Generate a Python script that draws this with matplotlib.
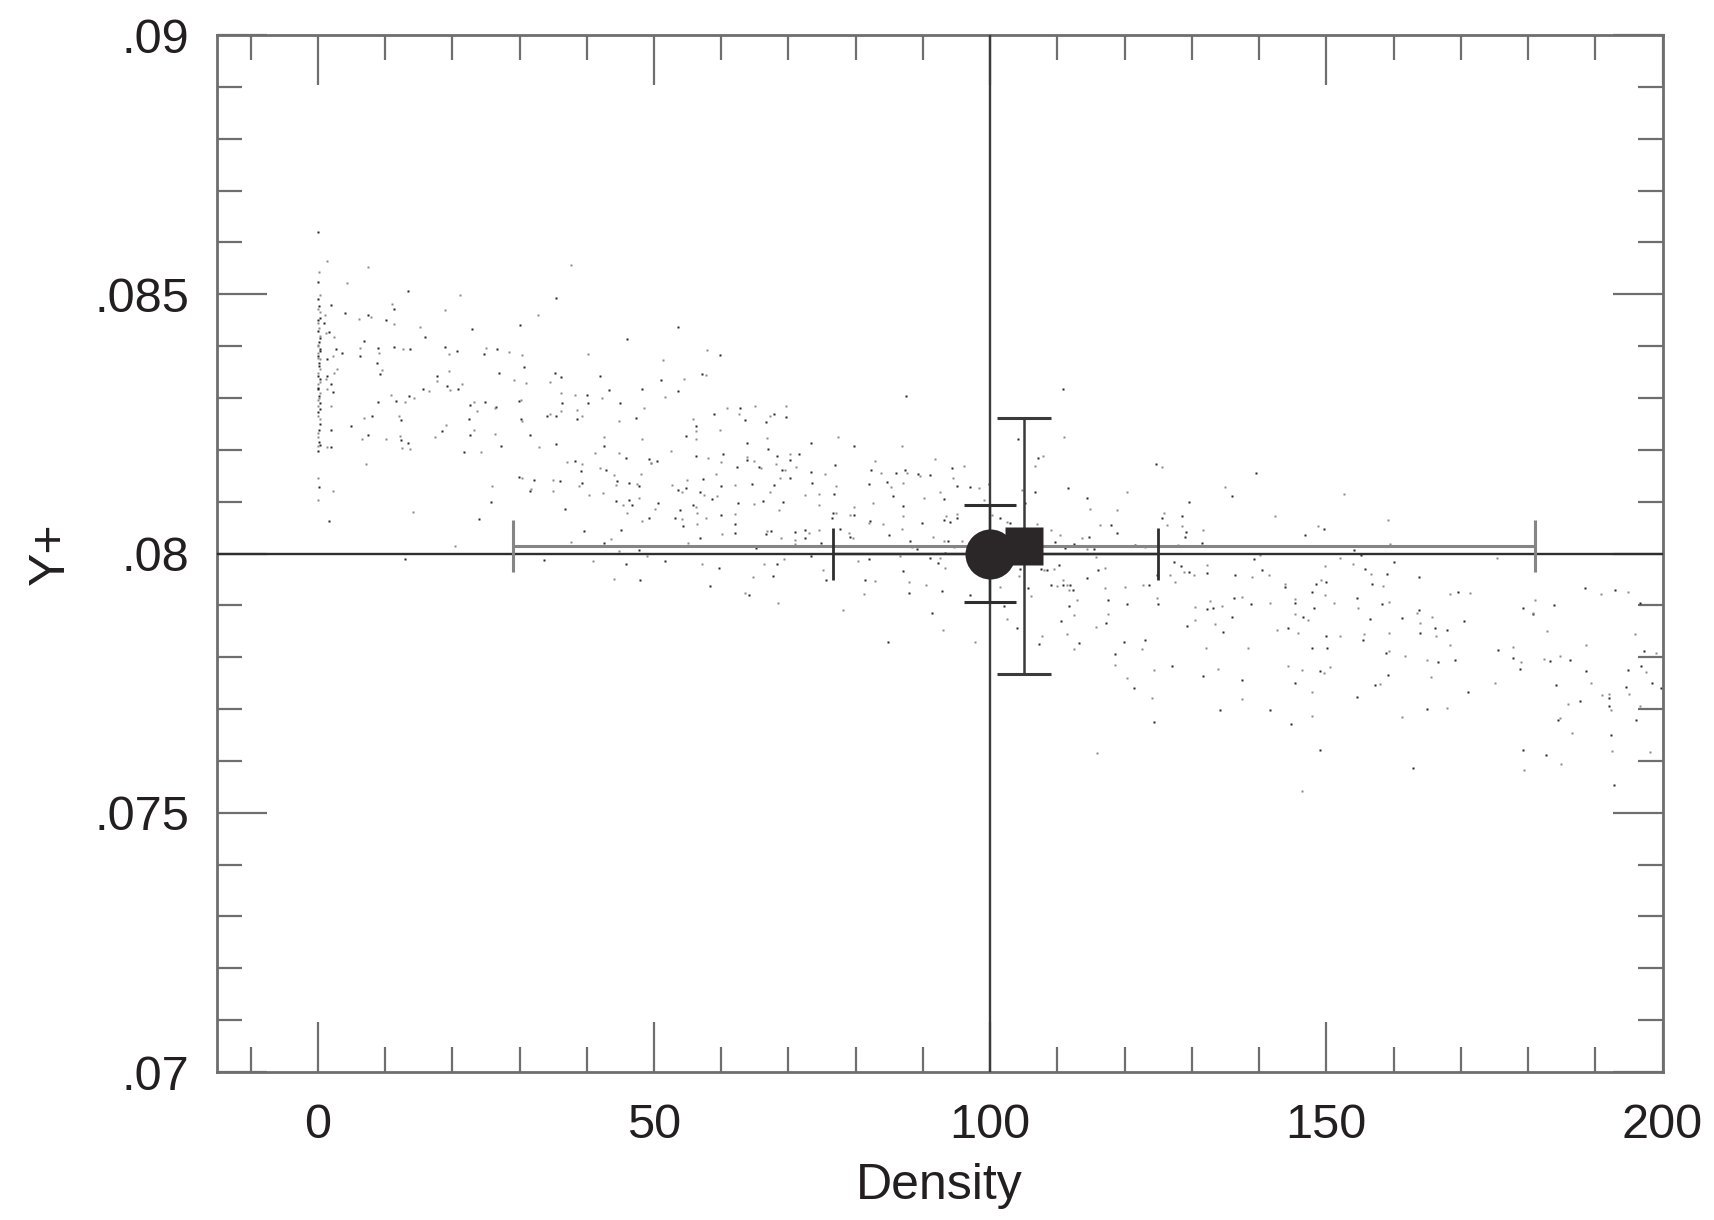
#!/usr/bin/env python3

'''Y+ against density: scatter of runs with two means and their error bars.'''

import numpy as np
import matplotlib
matplotlib.use('Agg')
import matplotlib.pyplot as plt
import matplotlib.ticker as ticker


X_LIM = (-15, 200)
Y_LIM = (0.07, 0.09)
X_TICKS = [0, 50, 100, 150, 200]
X_TICK_LABELS = ['0', '50', '100', '150', '200']
Y_TICKS = [0.07, 0.075, 0.08, 0.085, 0.09]
Y_TICK_LABELS = ['.07', '.075', '.08', '.085', '.09']

X_LABEL = 'Density'
Y_LABEL = 'Y+'

# reference lines
REF_X = 100.0
REF_Y = 0.080

# circle mean with its error bars
CIRCLE_X = 100.0
CIRCLE_Y = 0.0800
CIRCLE_XERR = (23.4, 24.9)
CIRCLE_YERR = 0.00093

# square mean with its error bars
SQUARE_X = 105.1
SQUARE_Y = 0.08014
SQUARE_XERR = 76.0
SQUARE_YERR = 0.00247

# runs at density ~0
dots_col = [
    (0.0, 0.08621), (0.2, 0.08542), (0.0, 0.08523), (0.4, 0.08498), (0.2, 0.08478),
    (0.0, 0.08471), (0.3, 0.08455), (0.1, 0.08445), (0.0, 0.08429), (0.4, 0.08420),
    (0.2, 0.08407), (0.0, 0.08400), (0.3, 0.08394), (0.1, 0.08387), (0.0, 0.08381),
    (0.4, 0.08375), (0.2, 0.08362), (0.0, 0.08349), (0.3, 0.08336), (0.1, 0.08326),
    (0.0, 0.08317), (0.4, 0.08310), (0.2, 0.08304), (0.0, 0.08297), (0.3, 0.08291),
    (0.1, 0.08284), (0.0, 0.08272), (0.4, 0.08259), (0.2, 0.08239), (0.0, 0.08233),
    (0.3, 0.08210), (0.1, 0.08207), (0.0, 0.08198), (0.0, 0.08146), (0.2, 0.08129),
    (0.0, 0.08103), (0.1, 0.08490), (0.3, 0.08465), (0.0, 0.08450), (0.2, 0.08435),
    (0.4, 0.08415), (0.1, 0.08403), (0.3, 0.08390), (0.0, 0.08378), (0.2, 0.08368),
    (0.4, 0.08355), (0.1, 0.08342), (0.3, 0.08331), (0.0, 0.08320), (0.2, 0.08300),
    (0.4, 0.08278), (0.1, 0.08265), (0.3, 0.08250), (0.0, 0.08225), (0.2, 0.08215),
]

# runs at density 1..55
dots_left = [
    (1.3, 0.08565), (1.9, 0.08479), (1.0, 0.08460), (0.9, 0.08445), (1.2, 0.08426),
    (1.7, 0.08427), (2.4, 0.08418), (2.7, 0.08395), (2.2, 0.08381), (1.4, 0.08375),
    (2.4, 0.08349), (1.3, 0.08342), (1.2, 0.08336), (1.9, 0.08326), (1.4, 0.08317),
    (2.3, 0.08311), (1.9, 0.08284), (1.9, 0.08238), (1.3, 0.08206), (2.0, 0.08206),
    (2.3, 0.08120), (1.6, 0.08062), (2.9, 0.08355), (3.6, 0.08386), (4.4, 0.08521),
    (4.0, 0.08463), (6.1, 0.08452), (7.4, 0.08460), (7.9, 0.08457), (6.9, 0.08410),
    (6.3, 0.08396), (6.3, 0.08380), (7.5, 0.08552), (8.9, 0.08396), (9.1, 0.08386),
    (8.8, 0.08367), (9.6, 0.08354), (9.3, 0.08346), (6.8, 0.08262), (8.1, 0.08266),
    (6.6, 0.08221), (7.4, 0.08228), (7.2, 0.08172), (5.0, 0.08246), (10.1, 0.08221),
    (10.2, 0.08451), (11.1, 0.08482), (11.3, 0.08471), (11.3, 0.08442), (11.3, 0.08399),
    (12.6, 0.08394), (13.7, 0.08394), (10.9, 0.08305), (11.6, 0.08294), (13.0, 0.08293),
    (13.6, 0.08304), (14.3, 0.08299), (8.9, 0.08292), (12.1, 0.08265), (12.3, 0.08257),
    (12.2, 0.08226), (12.3, 0.08219), (12.5, 0.08204), (13.4, 0.08214), (13.7, 0.08201),
    (13.0, 0.07990), (14.1, 0.08080), (13.4, 0.08506), (15.2, 0.08436), (15.9, 0.08418),
    (18.9, 0.08469), (18.9, 0.08399), (19.5, 0.08384), (20.7, 0.08391), (21.2, 0.08498),
    (23.0, 0.08433), (19.5, 0.08352), (17.8, 0.08342), (17.8, 0.08333), (19.2, 0.08324),
    (19.6, 0.08315), (20.8, 0.08318), (21.5, 0.08326), (15.7, 0.08318), (16.5, 0.08313),
    (22.6, 0.08286), (23.3, 0.08293), (24.8, 0.08293), (23.7, 0.08274), (22.5, 0.08259),
    (23.3, 0.08238), (22.6, 0.08228), (19.1, 0.08247), (18.5, 0.08236), (17.4, 0.08225),
    (21.8, 0.08196), (24.3, 0.08196), (24.0, 0.08067), (20.4, 0.08015), (24.7, 0.08384),
    (25.0, 0.08396), (26.7, 0.08394), (28.4, 0.08389), (26.9, 0.08348), (26.3, 0.08281),
    (26.5, 0.08283), (26.3, 0.08231), (27.2, 0.08208), (25.9, 0.08131), (25.8, 0.08099),
    (29.2, 0.08335), (30.1, 0.08440), (30.4, 0.08382), (30.6, 0.08360), (31.0, 0.08328),
    (29.9, 0.08294), (30.2, 0.08297), (30.2, 0.08259), (30.4, 0.08255), (31.6, 0.08228),
    (32.9, 0.08206), (29.9, 0.08148), (30.4, 0.08145), (32.1, 0.08141), (31.7, 0.08125),
    (31.6, 0.08120), (32.7, 0.08460), (35.4, 0.08492), (37.6, 0.08557), (35.3, 0.08349),
    (34.6, 0.08331), (36.2, 0.08341), (36.1, 0.08309), (34.1, 0.08266), (34.6, 0.08270),
    (35.5, 0.08266), (36.1, 0.08275), (36.3, 0.08290), (38.3, 0.08305), (40.1, 0.08306),
    (40.2, 0.08384), (40.2, 0.08290), (38.6, 0.08277), (38.6, 0.08259), (39.3, 0.08265),
    (35.4, 0.08212), (35.0, 0.08141), (36.0, 0.08140), (35.0, 0.08120), (36.7, 0.08085),
    (37.1, 0.08177), (38.3, 0.08178), (39.3, 0.08172), (39.1, 0.08159), (38.8, 0.08131),
    (39.3, 0.08136), (40.4, 0.08112), (39.6, 0.08043), (41.2, 0.08193), (42.0, 0.08342),
    (42.3, 0.08299), (43.3, 0.08315), (42.6, 0.08225), (42.5, 0.08207), (42.0, 0.08165),
    (42.8, 0.08161), (44.0, 0.08152), (44.5, 0.08140), (44.3, 0.08133), (46.3, 0.08136),
    (47.5, 0.08135), (47.7, 0.08130), (42.4, 0.08117), (44.3, 0.08101), (45.4, 0.08093),
    (46.3, 0.08104), (46.0, 0.08078), (46.8, 0.08093), (47.7, 0.08107), (44.9, 0.08290),
    (44.8, 0.08255), (47.4, 0.08262), (48.5, 0.08281), (48.2, 0.08318), (48.2, 0.08220),
    (46.0, 0.08413), (44.8, 0.08193), (45.9, 0.08185), (48.0, 0.08154), (49.2, 0.08183),
    (49.5, 0.08175), (49.2, 0.08069), (48.2, 0.08062), (45.1, 0.08045), (43.6, 0.08028),
    (42.5, 0.08020), (44.8, 0.08004), (47.7, 0.08007), (49.0, 0.07996), (45.8, 0.07980),
    (41.0, 0.07985), (33.6, 0.07987), (44.0, 0.07951), (47.9, 0.07948), (37.7, 0.08022),
    (53.5, 0.08436),
]

# runs at density 50..124
dots_mid = [
    (57.9, 0.08392), (59.8, 0.08383), (51.3, 0.08373), (51.1, 0.08335), (54.5, 0.08336),
    (57.2, 0.08346), (57.7, 0.08344), (53.6, 0.08314), (51.6, 0.08302), (87.5, 0.08304),
    (55.8, 0.08259), (56.2, 0.08246), (56.2, 0.08236), (54.7, 0.08226), (56.3, 0.08220),
    (59.0, 0.08269), (60.9, 0.08280), (62.8, 0.08280), (62.6, 0.08269), (63.5, 0.08258),
    (65.0, 0.08285), (66.7, 0.08254), (67.2, 0.08265), (67.8, 0.08270), (69.6, 0.08285),
    (69.6, 0.08264), (59.8, 0.08238), (63.9, 0.08214), (66.8, 0.08222), (66.9, 0.08201),
    (52.6, 0.08198), (50.5, 0.08179), (49.5, 0.08174), (56.2, 0.08188), (58.0, 0.08185),
    (60.3, 0.08192), (60.0, 0.08177), (62.4, 0.08167), (63.8, 0.08187), (63.9, 0.08180),
    (64.9, 0.08178), (65.6, 0.08167), (65.9, 0.08164), (68.3, 0.08188), (70.3, 0.08192),
    (71.6, 0.08192), (68.2, 0.08172), (69.1, 0.08161), (69.5, 0.08162), (70.3, 0.08180),
    (71.1, 0.08166), (73.3, 0.08214), (77.3, 0.08224), (79.7, 0.08207), (86.9, 0.08207),
    (73.4, 0.08158), (75.5, 0.08154), (76.9, 0.08171), (59.2, 0.08153), (57.3, 0.08144),
    (54.9, 0.08142), (54.7, 0.08126), (52.7, 0.08132), (53.5, 0.08122), (54.2, 0.08119),
    (56.9, 0.08119), (57.4, 0.08113), (58.7, 0.08105), (59.3, 0.08110), (60.0, 0.08130),
    (62.1, 0.08132), (64.6, 0.08134), (67.3, 0.08119), (67.8, 0.08132), (68.8, 0.08146),
    (70.3, 0.08146), (72.5, 0.08113), (73.5, 0.08136), (74.5, 0.08115), (76.7, 0.08115),
    (77.0, 0.08130), (50.6, 0.08097), (50.2, 0.08085), (55.8, 0.08093), (56.2, 0.08090),
    (62.5, 0.08097), (64.9, 0.08095), (66.2, 0.08102), (68.6, 0.08084), (69.2, 0.08100),
    (74.5, 0.08093), (53.8, 0.08084), (56.4, 0.08079), (53.2, 0.08068), (54.2, 0.08066),
    (54.3, 0.08054), (57.7, 0.08069), (59.9, 0.08074), (62.1, 0.08077), (62.1, 0.08057),
    (56.4, 0.08056), (62.0, 0.08040), (60.1, 0.08037), (56.9, 0.08029), (55.0, 0.08021),
    (66.6, 0.08037), (66.8, 0.08044), (67.4, 0.08044), (68.9, 0.08029), (71.0, 0.08041),
    (70.9, 0.08027), (72.5, 0.08046), (73.0, 0.08039), (72.5, 0.08029), (74.5, 0.08046),
    (76.6, 0.08079), (77.1, 0.08079), (76.5, 0.08068), (79.1, 0.08074), (79.8, 0.08075),
    (79.7, 0.08090), (77.7, 0.08048), (79.0, 0.08040), (79.2, 0.08032), (79.6, 0.08029),
    (74.8, 0.08021), (70.9, 0.08018), (65.2, 0.08010), (82.6, 0.08098), (82.0, 0.08135),
    (82.8, 0.08178), (82.3, 0.08161), (83.8, 0.08156), (84.7, 0.08138), (85.2, 0.08129),
    (86.0, 0.08156), (87.0, 0.08136), (87.4, 0.08161), (87.6, 0.08156), (89.2, 0.08154),
    (89.5, 0.08149), (91.0, 0.08151), (91.8, 0.08183), (94.3, 0.08164), (94.5, 0.08145),
    (95.1, 0.08130), (96.1, 0.08169), (97.0, 0.08129), (98.3, 0.08127), (99.8, 0.08134),
    (92.5, 0.08119), (93.2, 0.08105), (90.2, 0.08108), (87.1, 0.08091), (87.1, 0.08072),
    (85.5, 0.08110), (82.0, 0.08059), (82.2, 0.08063), (84.1, 0.08057), (84.9, 0.08036),
    (86.9, 0.08047), (89.9, 0.08059), (91.5, 0.08032), (93.2, 0.08064), (93.5, 0.08072),
    (94.0, 0.08061), (95.0, 0.08077), (95.1, 0.08068), (93.1, 0.08025), (93.8, 0.08025),
    (95.8, 0.08025), (93.3, 0.08001), (94.6, 0.08013), (91.1, 0.07991), (92.6, 0.07991),
    (92.3, 0.07981), (93.3, 0.07973), (88.1, 0.08025), (88.4, 0.08013), (89.1, 0.08008),
    (86.6, 0.07995), (82.0, 0.07989), (80.3, 0.07986), (81.4, 0.07949), (82.8, 0.07947),
    (87.1, 0.07967), (87.9, 0.07945), (88.0, 0.07923), (90.4, 0.07939), (92.8, 0.07928),
    (81.2, 0.07922), (73.3, 0.07995), (75.2, 0.07969), (75.6, 0.07949), (78.1, 0.07891),
    (51.7, 0.07986), (57.2, 0.07979), (59.6, 0.07973), (66.4, 0.07979), (68.3, 0.07979),
    (69.4, 0.07989), (67.7, 0.07956), (64.8, 0.07954), (58.4, 0.07937), (63.6, 0.07923),
    (64.2, 0.07920), (68.5, 0.07905), (91.3, 0.07886), (93.0, 0.07852), (84.8, 0.07830),
    (97.7, 0.07830), (97.0, 0.07920), (101.4, 0.07935), (102.0, 0.07898), (102.5, 0.07873),
    (104.0, 0.07857), (100.3, 0.08074), (101.5, 0.08068), (102.5, 0.08061), (102.9, 0.08059),
    (99.1, 0.08104), (104.2, 0.08220), (104.7, 0.08122), (105.2, 0.08097), (106.7, 0.08169),
    (107.1, 0.08185), (107.9, 0.08188), (106.7, 0.08119), (106.9, 0.08057), (110.9, 0.08317),
    (111.0, 0.08224), (111.6, 0.08127), (109.0, 0.08045), (109.7, 0.08023), (110.4, 0.08036),
    (112.4, 0.08018), (113.7, 0.08029), (114.7, 0.08031), (114.4, 0.08008), (115.4, 0.08008),
    (116.3, 0.08055), (117.9, 0.08055), (118.8, 0.08084), (114.4, 0.08108), (114.8, 0.08085),
    (118.9, 0.08039), (120.4, 0.08119), (121.6, 0.08016), (123.1, 0.08013), (111.2, 0.08010),
    (115.7, 0.07994), (116.0, 0.07968), (117.1, 0.07973), (104.4, 0.07971), (104.3, 0.07956),
    (105.7, 0.07933), (106.0, 0.07918), (107.5, 0.07971), (108.0, 0.07968), (108.5, 0.07969),
    (109.5, 0.07971), (110.2, 0.07978), (110.9, 0.07949), (109.0, 0.07939), (109.9, 0.07937),
    (110.9, 0.07939), (111.4, 0.07939), (111.9, 0.07939), (111.7, 0.07929), (112.3, 0.07929),
    (112.9, 0.07910), (111.8, 0.07898), (112.5, 0.07881), (114.4, 0.07952), (117.1, 0.07933),
    (117.6, 0.07911), (120.1, 0.07935), (120.3, 0.07902), (117.6, 0.07884), (117.3, 0.07866),
    (115.8, 0.07859), (110.5, 0.07870), (107.7, 0.07841), (107.2, 0.07825), (111.4, 0.07844),
    (113.2, 0.07828), (112.5, 0.07815), (118.6, 0.07806), (118.5, 0.07785), (119.9, 0.07830),
    (120.4, 0.07759), (121.4, 0.07740), (122.6, 0.07815), (123.1, 0.07833), (122.8, 0.07939),
    (123.6, 0.07939), (115.9, 0.07616),
]

# runs at density 124..200
dots_right = [
    (124.6, 0.08172), (125.6, 0.08166), (139.5, 0.08155), (134.9, 0.08129), (135.9, 0.08111),
    (152.6, 0.08114), (129.6, 0.08100), (125.9, 0.08079), (125.5, 0.08068), (126.3, 0.08055),
    (128.5, 0.08073), (128.5, 0.08053), (129.2, 0.08041), (131.7, 0.08046), (129.0, 0.08031),
    (128.0, 0.08016), (131.5, 0.08021), (142.4, 0.08073), (146.9, 0.08035), (148.8, 0.08053),
    (149.6, 0.08048), (159.2, 0.08064), (154.1, 0.08007), (159.4, 0.08018), (155.2, 0.07997),
    (152.0, 0.07992), (139.3, 0.07990), (140.2, 0.07997), (160.0, 0.07984), (153.9, 0.07979),
    (155.8, 0.07971), (156.6, 0.07960), (159.0, 0.07960), (149.8, 0.07975), (124.8, 0.07958),
    (126.7, 0.07958), (127.3, 0.07984), (127.5, 0.07946), (128.4, 0.07975), (128.8, 0.07965),
    (129.6, 0.07965), (130.3, 0.07958), (132.2, 0.07962), (132.3, 0.07977), (136.4, 0.07958),
    (139.0, 0.07954), (140.5, 0.07968), (141.5, 0.07958), (148.4, 0.07941), (149.2, 0.07949),
    (150.0, 0.07946), (143.8, 0.07941), (143.8, 0.07936), (149.8, 0.07920), (147.8, 0.07926),
    (151.1, 0.07904), (154.5, 0.07914), (154.7, 0.07895), (156.8, 0.07941), (158.4, 0.07938),
    (158.3, 0.07902), (159.3, 0.07907), (163.8, 0.07954), (124.8, 0.07914), (125.0, 0.07902),
    (130.4, 0.07896), (132.3, 0.07893), (132.7, 0.07909), (133.1, 0.07895), (134.5, 0.07898),
    (136.3, 0.07914), (137.4, 0.07917), (138.8, 0.07902), (141.6, 0.07904), (145.4, 0.07904),
    (145.3, 0.07912), (148.1, 0.07895), (145.4, 0.07883), (146.6, 0.07877), (147.2, 0.07872),
    (135.9, 0.07878), (130.4, 0.07872), (129.3, 0.07860), (133.4, 0.07864), (134.7, 0.07849),
    (142.6, 0.07853), (144.3, 0.07856), (145.8, 0.07846), (150.0, 0.07841), (152.1, 0.07841),
    (155.4, 0.07833), (155.6, 0.07844), (156.5, 0.07873), (159.3, 0.07846), (161.2, 0.07875),
    (163.5, 0.07885), (163.8, 0.07891), (163.9, 0.07866), (163.9, 0.07846), (165.7, 0.07878),
    (166.1, 0.07857), (166.3, 0.07841), (167.9, 0.07853), (168.4, 0.07922), (169.6, 0.07926),
    (171.4, 0.07923), (170.4, 0.07870), (168.4, 0.07824), (169.2, 0.07795), (165.0, 0.07795),
    (166.6, 0.07791), (161.7, 0.07803), (158.8, 0.07808), (159.3, 0.07812), (159.1, 0.07765),
    (158.0, 0.07748), (157.3, 0.07747), (165.5, 0.07761), (171.1, 0.07733), (161.2, 0.07684),
    (165.0, 0.07700), (167.9, 0.07702), (162.9, 0.07586), (124.0, 0.07722), (124.4, 0.07675),
    (124.3, 0.07776), (127.1, 0.07783), (132.1, 0.07817), (131.6, 0.07763), (133.9, 0.07778),
    (134.2, 0.07698), (138.3, 0.07817), (137.4, 0.07756), (137.4, 0.07720), (141.6, 0.07698),
    (144.3, 0.07783), (145.4, 0.07751), (146.4, 0.07776), (147.8, 0.07817), (147.8, 0.07733),
    (149.0, 0.07774), (149.6, 0.07769), (150.1, 0.07817), (150.5, 0.07782), (144.7, 0.07672),
    (147.8, 0.07686), (149.0, 0.07622), (146.4, 0.07542), (154.5, 0.07724), (175.4, 0.07992),
    (175.6, 0.07814), (177.7, 0.07820), (177.8, 0.07799), (178.9, 0.07790), (178.8, 0.07778),
    (175.1, 0.07751), (179.2, 0.07895), (180.7, 0.07886), (180.8, 0.07883), (181.1, 0.07911),
    (183.9, 0.07900), (182.8, 0.07851), (188.5, 0.07934), (190.9, 0.07922), (192.9, 0.07930),
    (194.9, 0.07926), (196.6, 0.07904), (182.4, 0.07797), (183.2, 0.07793), (184.7, 0.07803),
    (186.3, 0.07795), (188.6, 0.07824), (188.6, 0.07774), (189.3, 0.07751), (184.2, 0.07746),
    (185.9, 0.07709), (187.7, 0.07715), (191.0, 0.07727), (192.0, 0.07722), (192.1, 0.07729),
    (192.0, 0.07705), (192.4, 0.07698), (194.6, 0.07743), (195.0, 0.07729), (194.8, 0.07776),
    (195.9, 0.07844), (197.2, 0.07812), (199.1, 0.07809), (196.8, 0.07783), (197.5, 0.07772),
    (198.4, 0.07751), (196.6, 0.07706), (196.1, 0.07678), (184.8, 0.07682), (184.5, 0.07678),
    (186.6, 0.07653), (179.2, 0.07622), (179.4, 0.07583), (182.6, 0.07611), (184.9, 0.07594),
    (192.4, 0.07650), (192.5, 0.07619), (192.8, 0.07554), (198.1, 0.07617), (199.8, 0.07741),
]

AXES_COLOR = '#6e6e6e'
TEXT_COLOR = '#231f20'
MARK_COLOR = '#2b2627'


def format_axis(axis):
    '''Ticks, limits and frame.'''
    axis.set_xlim(*X_LIM)
    axis.set_ylim(*Y_LIM)
    axis.xaxis.set_major_locator(ticker.FixedLocator(X_TICKS))
    axis.xaxis.set_major_formatter(ticker.FixedFormatter(X_TICK_LABELS))
    axis.xaxis.set_minor_locator(ticker.MultipleLocator(10))
    axis.yaxis.set_major_locator(ticker.FixedLocator(Y_TICKS))
    axis.yaxis.set_major_formatter(ticker.FixedFormatter(Y_TICK_LABELS))
    axis.yaxis.set_minor_locator(ticker.MultipleLocator(0.001))
    axis.tick_params(which='both', direction='in', top=True, right=True,
                     color=AXES_COLOR, width=1.6, labelcolor=TEXT_COLOR,
                     labelsize=35)
    axis.tick_params(which='major', length=36)
    axis.tick_params(which='minor', length=18)
    axis.tick_params(axis='x', pad=22)
    axis.tick_params(axis='y', pad=20)
    for spine in axis.spines.values():
        spine.set_color(AXES_COLOR)
        spine.set_linewidth(2)
    axis.set_xlabel(X_LABEL, fontsize=36, color=TEXT_COLOR, labelpad=11)
    axis.set_ylabel(Y_LABEL, fontsize=36, color=TEXT_COLOR, labelpad=15)


def plot_graph():
    plt.rcParams['font.family'] = ['Liberation Sans', 'DejaVu Sans']
    fig = plt.figure(figsize=(17.15, 12.20), dpi=100)
    axis = fig.add_axes([0.1265, 0.1213, 0.8429, 0.850])

    pts = np.array(dots_col + dots_left + dots_mid + dots_right)
    axis.plot(pts[::2, 0], pts[::2, 1], 's', ms=2.0, color='#262626',
              mec='none', zorder=2)
    axis.plot(pts[1::2, 0], pts[1::2, 1], 's', ms=2.0, color='#8a8a8a',
              mec='none', zorder=2)

    axis.axvline(REF_X, color='#3c3c3c', lw=1.7, zorder=3)
    axis.axhline(REF_Y, color='#2e2e2e', lw=1.7, zorder=3)

    # square: wide horizontal bar and tall vertical bar (capsize is half the cap)
    axis.errorbar(SQUARE_X, SQUARE_Y, xerr=SQUARE_XERR, fmt='none',
                  ecolor='#858585', elinewidth=2.2, capsize=18.5, capthick=2.2,
                  zorder=4)
    axis.errorbar(SQUARE_X, SQUARE_Y, yerr=SQUARE_YERR, fmt='none',
                  ecolor='#3a3a3a', elinewidth=1.8, capsize=19.5, capthick=2.2,
                  zorder=4)
    # circle: inner bars
    axis.errorbar(CIRCLE_X, CIRCLE_Y, xerr=[[CIRCLE_XERR[0]], [CIRCLE_XERR[1]]],
                  fmt='none', ecolor='#2e2e2e', elinewidth=1.7, capsize=18.5,
                  capthick=2.0, zorder=4)
    axis.errorbar(CIRCLE_X, CIRCLE_Y, yerr=CIRCLE_YERR, fmt='none',
                  ecolor='#2e2e2e', elinewidth=1.7, capsize=19, capthick=2.2,
                  zorder=4)

    axis.plot(CIRCLE_X, CIRCLE_Y, 'o', ms=36, color=MARK_COLOR, mec='none',
              zorder=5)
    axis.plot(SQUARE_X, SQUARE_Y, 's', ms=27, color=MARK_COLOR, mec='none',
              zorder=6)

    format_axis(axis)
    fig.savefig('out.png', dpi=100, facecolor='white')


if __name__ == '__main__':
    plot_graph()
